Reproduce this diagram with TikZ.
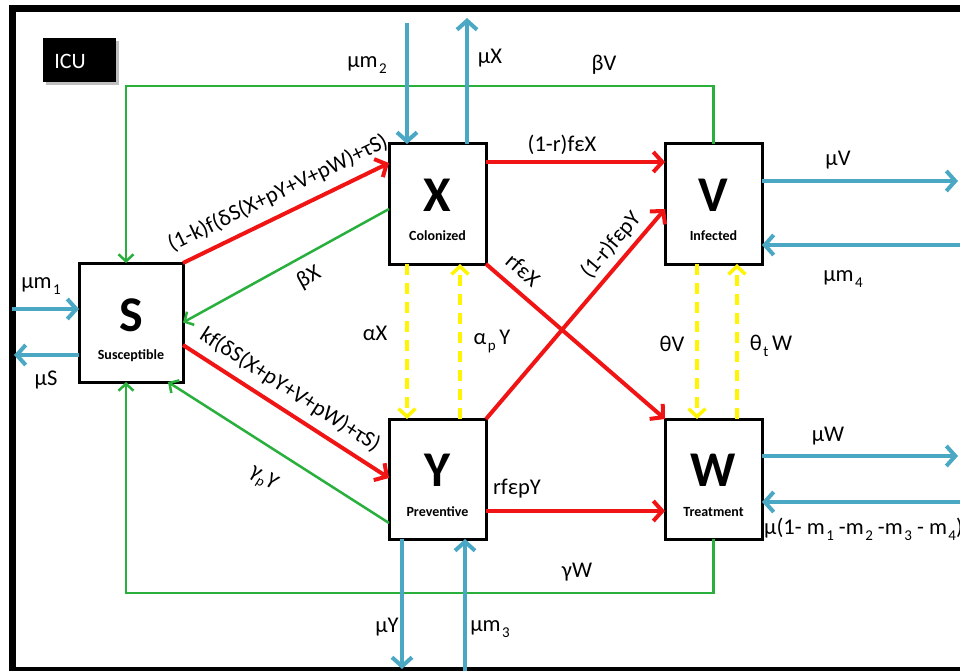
\documentclass[tikz,border=0pt]{standalone}
\usepackage{fontspec}
\setmainfont{Carlito}
\usetikzlibrary{arrows.meta,shadows}
\definecolor{cred}{RGB}{240,20,20}
\definecolor{cgreen}{RGB}{40,175,60}
\definecolor{cblue}{RGB}{75,168,196}
\definecolor{cyel}{RGB}{255,245,0}
\newcommand\lowsub[1]{\kern1.5pt\raisebox{-6pt}{\fontsize{15}{15}\selectfont #1}}
\begin{document}
\begin{tikzpicture}[x=1pt,y=1pt,
  box/.style={draw=black,line width=3pt,fill=white,minimum width=97pt,minimum height=120pt,inner sep=0pt,outer sep=0pt},
  big/.style={font=\fontsize{50}{50}\selectfont\bfseries,inner sep=0pt},
  sub/.style={font=\fontsize{14}{14}\selectfont\bfseries,inner sep=0pt},
  lab/.style={font=\fontsize{22.5}{24}\selectfont,inner sep=0pt},
  redar/.style={draw=cred,line width=4pt,-{Straight Barb[length=9pt,width=20pt]}},
  grar/.style={draw=cgreen,line width=2.5pt,-{Straight Barb[length=7pt,width=15pt]}},
  bluar/.style={draw=cblue,line width=4pt,-{Straight Barb[length=9pt,width=20pt]}},
  yelar/.style={draw=cyel,line width=3.5pt,dash pattern=on 11pt off 8pt,-{Straight Barb[length=8pt,width=17pt]}}
]
\useasboundingbox (0,0) rectangle (960,-671);
\clip (0,0) rectangle (960,-671);
\fill[white] (0,0) rectangle (960,-671);
% frame
\draw[line width=7pt] (975,-8.5) -- (12,-8.5) -- (12,-670) -- (975,-670);
% ICU
\node[fill=black,minimum width=73pt,minimum height=44pt,inner sep=0pt,drop shadow={shadow xshift=3pt,shadow yshift=-3pt,fill=gray}] (icu) at (79.5,-60) {};
\node[font=\fontsize{22}{24}\selectfont,text=white,inner sep=0pt] (icut) at (70,-61) {ICU};
% boxes
\node[box,minimum width=104pt,minimum height=119pt] (S) at (131,-322.5) {};
\node[box] (X) at (437.5,-204) {};
\node[box] (V) at (713.5,-204) {};
\node[box] (Y) at (437.5,-479) {};
\node[box] (W) at (713.5,-479) {};
\node[big] (St) at ([yshift=-52pt]S.north) {S};
\node[sub] (Ss) at ([yshift=-93pt]S.north) {Susceptible};
\node[big] (Xt) at ([yshift=-51pt]X.north) {X};
\node[sub] (Xs) at ([yshift=-92pt]X.north) {Colonized};
\node[big] (Vt) at ([yshift=-51pt]V.north) {V};
\node[sub] (Vs) at ([yshift=-92pt]V.north) {Infected};
\node[big] (Yt) at ([yshift=-51pt]Y.north) {Y};
\node[sub] (Ys) at ([yshift=-93pt]Y.north) {Preventive};
\node[big] (Wt) at ([yshift=-51pt]W.north) {W};
\node[sub] (Ws) at ([yshift=-93pt]W.north) {Treatment};
% free ends
\coordinate (m2in) at (407,-23);
\coordinate (muXout) at (467,-18);
\coordinate (m1in) at (12,-309);
\coordinate (muSout) at (14,-355);
\coordinate (muVout) at (958,-181);
\coordinate (m4in) at (965,-245);
\coordinate (muWout) at (958,-456);
\coordinate (restin) at (965,-502);
\coordinate (muYout) at (402,-669);
\coordinate (m3in) at (465,-675);
% green
\draw[grar] (V.north) -- ++(0,58) -| ([xshift=-5pt]S.north);
\draw[grar] (W.south) -- ++(0,-54) -| ([xshift=-5pt]S.south);
\draw[grar] ([yshift=-65pt]X.north west) -- (S.east);
\draw[grar] ([yshift=-104pt]Y.north west) -- ([xshift=-15pt]S.south east);
% blue
\draw[bluar] (m2in) -- ([xshift=-30.5pt]X.north);
\draw[bluar] ([xshift=29.5pt]X.north) -- (muXout);
\draw[bluar] (m1in) -- ([yshift=-46pt]S.north west);
\draw[bluar] ([yshift=-92pt]S.north west) -- (muSout);
\draw[bluar] ([yshift=-37pt]V.north east) -- (muVout);
\draw[bluar] (m4in) -- ([yshift=-101pt]V.north east);
\draw[bluar] ([yshift=-37pt]W.north east) -- (muWout);
\draw[bluar] (restin) -- ([yshift=-83pt]W.north east);
\draw[bluar] ([xshift=-35.5pt]Y.south) -- (muYout);
\draw[bluar] (m3in) -- ([xshift=27.5pt]Y.south);
% red
\draw[redar] (S.north east) -- ([yshift=-19pt]X.north west);
\draw[redar] ([yshift=-82pt]S.north east) -- ([yshift=-59pt]Y.north west);
\draw[redar] ([yshift=-18pt]X.north east) -- ([yshift=-18pt]V.north west);
\draw[redar] (X.south east) -- (W.north west);
\draw[redar] (Y.north east) -- ([yshift=-65pt]V.north west);
\draw[redar] ([yshift=-92pt]Y.north east) -- ([yshift=-92pt]W.north west);
% yellow
\draw[yelar] ([xshift=-30.5pt]X.south) -- ([xshift=-30.5pt]Y.north);
\draw[yelar] ([xshift=22.5pt]Y.north) -- ([xshift=22.5pt]X.south);
\draw[yelar] ([xshift=-16.5pt]V.south) -- ([xshift=-16.5pt]W.north);
\draw[yelar] ([xshift=23.5pt]W.north) -- ([xshift=23.5pt]V.south);
% labels
\node[lab,rotate=25.9] (l1) at (278,-193) {(1-k)f(δS(X+pY+V+pW)+τS)};
\node[lab,rotate=-32.8] (l2) at (290,-390) {kf(δS(X+pY+V+pW)+τS)};
\node[lab,rotate=28.9] (l3) at (309,-278) {βX};
\node[lab,rotate=-32] (l4) at (263,-479) {γ{\fontsize{14}{14}\selectfont\raisebox{-4pt}{p}}Y};
\node[lab,rotate=-40.9] (l5) at (523,-270) {rfεX};
\node[lab,rotate=49.6] (l6) at (611,-245) {(1-r)fεpY};
\node[lab] (l7) at (562,-145) {(1-r)fεX};
\node[lab] (l8) at (517,-489) {rfεpY};
\node[lab] (l9) at (375,-333) {αX};
\node[lab] (l10) at (492,-341) {α\lowsub{p}\,Y};
\node[lab] (l11) at (672,-344) {θV};
\node[lab] (l12) at (771,-346) {θ\lowsub{t}\,W};
\node[lab] (l13) at (367,-65) {µm\lowsub{2}};
\node[lab] (l14) at (490,-58) {µX};
\node[lab] (l15) at (604,-65) {βV};
\node[lab] (l16) at (838,-160) {µV};
\node[lab] (l17) at (843,-279) {µm\lowsub{4}};
\node[lab] (l18) at (828,-436) {µW};
\node[lab,anchor=base west] (l19) at (764,-534) {µ(1- m\lowsub{1} -m\lowsub{2} -m\lowsub{3} - m\lowsub{4})};
\node[lab] (l20) at (577,-572) {γW};
\node[lab] (l21) at (490,-629) {µm\lowsub{3}};
\node[lab] (l22) at (387,-627) {µY};
\node[lab] (l23) at (41,-286) {µm\lowsub{1}};
\node[lab] (l24) at (46,-380) {µS};
\end{tikzpicture}
\end{document}
